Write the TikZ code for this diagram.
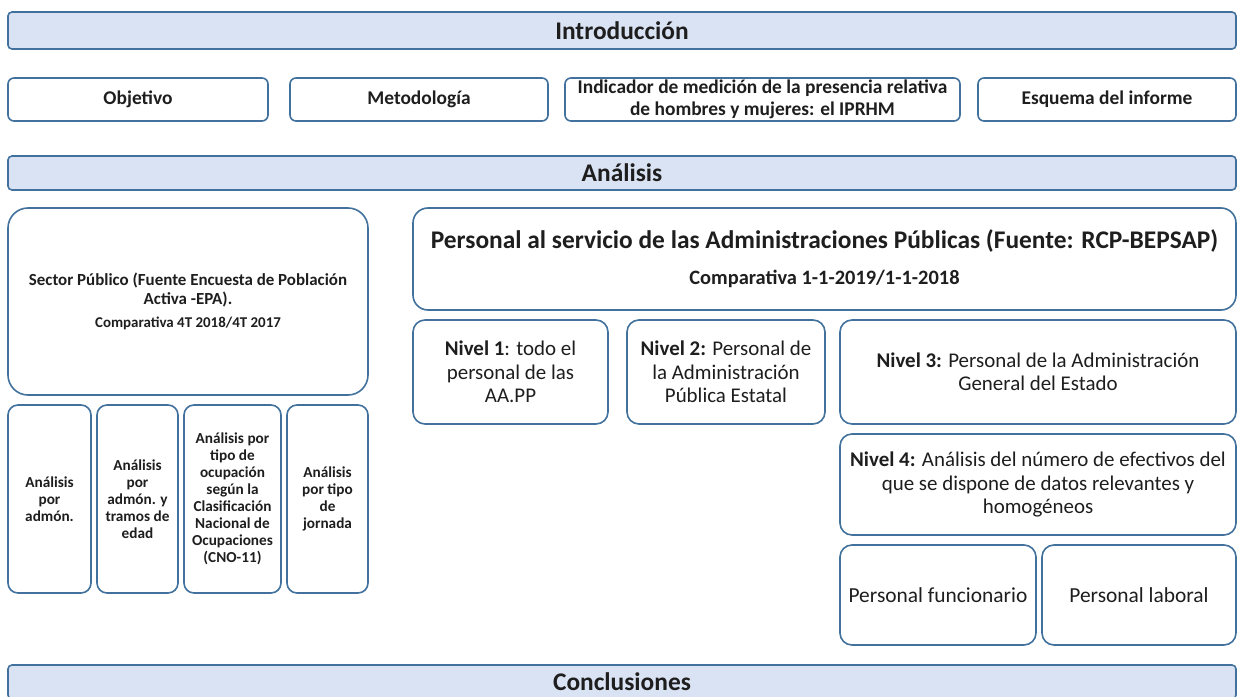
\documentclass[tikz,border=0pt]{standalone}
\usepackage{fontspec}
\setmainfont{Carlito}
\definecolor{rim}{HTML}{41719C}
\definecolor{barfill}{HTML}{DAE3F3}
\definecolor{ink}{HTML}{1E1E1E}
\newcommand{\barfont}{\fontsize{25.5}{30}\selectfont\bfseries}
\newcommand{\rowfont}{\fontsize{19.5}{22}\selectfont\bfseries}
\newcommand{\smallfont}{\fontsize{15.3}{17}\selectfont\bfseries}
\newcommand{\nivfont}{\fontsize{21}{23.5}\selectfont}
\tikzset{
  box/.style={draw=rim, line width=1.6bp, fill=white, rounded corners=6bp,
    inner sep=0pt, align=center, text=ink},
  bar/.style={box, fill=barfill, rounded corners=4bp, minimum width=1228bp,
    font=\barfont},
  rowbox/.style={box, minimum height=43bp, font=\rowfont},
  colbox/.style={box, rounded corners=10bp, minimum height=188bp, font=\smallfont},
  nivbox/.style={box, rounded corners=12bp, font=\nivfont},
}
\begin{document}
\begin{tikzpicture}[x=1bp,y=-1bp]
\useasboundingbox (0,0) rectangle (1239,697);

% introduccion
\node[bar, minimum height=37bp] (intro) at (622,30.5) {Introducción};
\node[rowbox, minimum width=260bp] (objetivo) at (138,99.5) {Objetivo};
\node[rowbox, minimum width=258bp] (metodo) at (419,99.5) {Metodología};
\node[rowbox, minimum width=395bp] (iprhm) at (762.5,99.5)
  {Indicador de medición de la presencia relativa\\ de hombres y mujeres: el IPRHM};
\node[rowbox, minimum width=258bp] (esquema) at (1107,99.5) {Esquema del informe};

% analisis
\node[bar, minimum height=34bp] (analisis) at (622,173) {Análisis};

\node[box, rounded corners=20bp, minimum width=360bp, minimum height=187bp,
  font=\fontsize{17}{18.5}\selectfont\bfseries] (epa) at (188,301.5)
  {Sector Público (Fuente Encuesta de Población\\ Activa -EPA).\\[5bp]
   {\fontsize{15}{17}\selectfont Comparativa 4T 2018/4T 2017}};
\node[colbox, minimum width=83bp] (admon) at (49.5,499) {Análisis\\ por\\ admón.};
\node[colbox, minimum width=81bp] (edad) at (137.5,499)
  {Análisis\\ por\\ admón. y\\ tramos de\\ edad};
\node[colbox, minimum width=97bp] (cno) at (232.5,499)
  {Análisis por\\ tipo de\\ ocupación\\ según la\\ Clasificación\\ Nacional de\\ Ocupaciones\\ (CNO-11)};
\node[colbox, minimum width=81bp] (jornada) at (327.5,499)
  {Análisis\\ por tipo\\ de\\ jornada};

\node[box, rounded corners=15bp, minimum width=823bp, minimum height=102bp,
  font=\fontsize{25.5}{30}\selectfont\bfseries] (bepsap) at (824.5,259)
  {Personal al servicio de las Administraciones Públicas (Fuente: RCP-BEPSAP)\\[6bp]
   {\fontsize{20.5}{24}\selectfont Comparativa 1-1-2019/1-1-2018}};
\node[nivbox, minimum width=195bp, minimum height=104bp] (nivel1) at (510.5,372)
  {\textbf{Nivel 1}: todo el\\ personal de las\\ AA.PP};
\node[nivbox, minimum width=198bp, minimum height=104bp] (nivel2) at (726,372)
  {\textbf{Nivel 2:} Personal de\\ la Administración\\ Pública Estatal};
\node[nivbox, minimum width=396bp, minimum height=104bp] (nivel3) at (1038,372)
  {\textbf{Nivel 3:} Personal de la Administración\\ General del Estado};
\node[nivbox, minimum width=396bp, minimum height=101bp] (nivel4) at (1038,484.5)
  {\textbf{Nivel 4:} Análisis del número de efectivos del\\ que se dispone de datos relevantes y\\ homogéneos};
\node[nivbox, minimum width=196bp, minimum height=100bp,
  font=\fontsize{21.5}{24}\selectfont] (funcionario) at (938,595) {Personal funcionario};
\node[nivbox, minimum width=194bp, minimum height=100bp,
  font=\fontsize{21.5}{24}\selectfont] (laboral) at (1139,595) {Personal laboral};

% conclusiones
\node[bar, minimum height=34bp] (conclusiones) at (622,682) {Conclusiones};
\end{tikzpicture}
\end{document}
